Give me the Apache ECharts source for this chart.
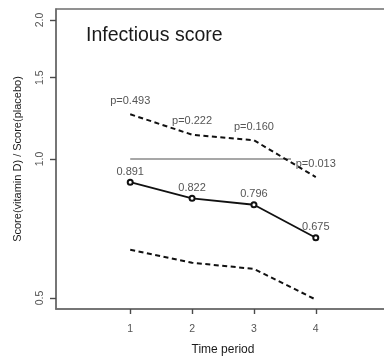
<!DOCTYPE html>
<html>
<head>
<meta charset="utf-8">
<script src="https://cdn.jsdelivr.net/npm/echarts@6/dist/echarts.min.js"></script>
<style>
html,body{margin:0;padding:0;background:#fff;overflow:hidden;}
#chart{width:384px;height:358px;}
</style>
</head>
<body>
<div id="chart"></div>
<script>
const periods = [1, 2, 3, 4];
const ratio = [0.891, 0.822, 0.796, 0.675];
const upperCI = [1.250, 1.129, 1.098, 0.914];
const lowerCI = [0.636, 0.596, 0.578, 0.496];
const pLabels = ['p=0.493', 'p=0.222', 'p=0.160', 'p=0.013'];
const ratioLabels = ['0.891', '0.822', '0.796', '0.675'];
const yTickValues = [0.5, 1.0, 1.5, 2.0];
const xTickValues = [1, 2, 3, 4];
const refLineX = [1, 3.6];
const refLineY = [1, 1];
const xRange = [-0.2, 5.2];
const yRange = [0.4732, 2.1135];

const pair = (xs, ys) => xs.map((x, i) => [x, ys[i]]);
const font = 'Liberation Sans, Arial, sans-serif';

const chart = echarts.init(document.getElementById('chart'), null, {renderer: 'canvas'});
chart.setOption({
  animation: false,
  backgroundColor: '#fff',
  textStyle: {fontFamily: font},
  title: {
    text: 'Infectious score',
    left: 86, top: 26,
    padding: 0,
    textStyle: {fontFamily: font, fontSize: 19.5, fontWeight: 'normal', color: '#1a1a1a'}
  },
  grid: {
    left: 56, top: 9, right: -6, bottom: 49,
    show: true, borderColor: '#6e6e6e', borderWidth: 1.5,
    containLabel: false, outerBoundsMode: 'none'
  },
  xAxis: {
    type: 'value', min: xRange[0], max: xRange[1],
    name: 'Time period', nameLocation: 'middle', nameGap: 35,
    nameTextStyle: {fontFamily: font, fontSize: 12, color: '#1a1a1a'},
    axisLine: {show: true, onZero: false, lineStyle: {color: '#6e6e6e', width: 1.5}},
    splitLine: {show: false},
    axisTick: {show: true, customValues: xTickValues, length: 5, lineStyle: {color: '#4a4a4a', width: 1.4}},
    axisLabel: {customValues: xTickValues, margin: 15, fontSize: 10.5, color: '#555', fontFamily: font}
  },
  yAxis: {
    type: 'log', min: yRange[0], max: yRange[1],
    name: 'Score(vitamin D) / Score(placebo)', nameLocation: 'middle', nameGap: 33,
    nameTextStyle: {fontFamily: font, fontSize: 11, color: '#1a1a1a'},
    axisLine: {show: true, onZero: false, lineStyle: {color: '#6e6e6e', width: 1.5}},
    splitLine: {show: false},
    axisTick: {show: true, customValues: yTickValues, length: 6, lineStyle: {color: '#4a4a4a', width: 1.4}},
    axisLabel: {customValues: yTickValues, rotate: 90, margin: 10, fontSize: 10.5, color: '#555', fontFamily: font,
      formatter: v => Number(v).toFixed(1)}
  },
  series: [
    {
      type: 'line', data: pair(refLineX, refLineY), symbol: 'none',
      lineStyle: {color: '#8a8a8a', width: 1.3}, z: 1, silent: true
    },
    {
      type: 'line', data: pair(periods, upperCI), symbol: 'circle', symbolSize: 0, showSymbol: true,
      itemStyle: {color: '#111'},
      lineStyle: {color: '#111', width: 2, type: [5, 3.5]},
      label: {show: true, position: 'top', distance: 8, fontSize: 11, color: '#555', fontFamily: font,
        formatter: p => pLabels[p.dataIndex]},
      labelLayout: {hideOverlap: false}, z: 3
    },
    {
      type: 'line', data: pair(periods, ratio), symbol: 'emptyCircle', symbolSize: 5,
      itemStyle: {color: '#111', borderWidth: 1.5},
      lineStyle: {color: '#111', width: 1.8},
      label: {show: true, position: 'top', distance: 1.5, fontSize: 11, color: '#555', fontFamily: font,
        formatter: p => ratioLabels[p.dataIndex]}, z: 3
    },
    {
      type: 'line', data: pair(periods, lowerCI), symbol: 'none',
      lineStyle: {color: '#111', width: 2, type: [5, 3.5]}, z: 3
    }
  ]
});
</script>
</body>
</html>
